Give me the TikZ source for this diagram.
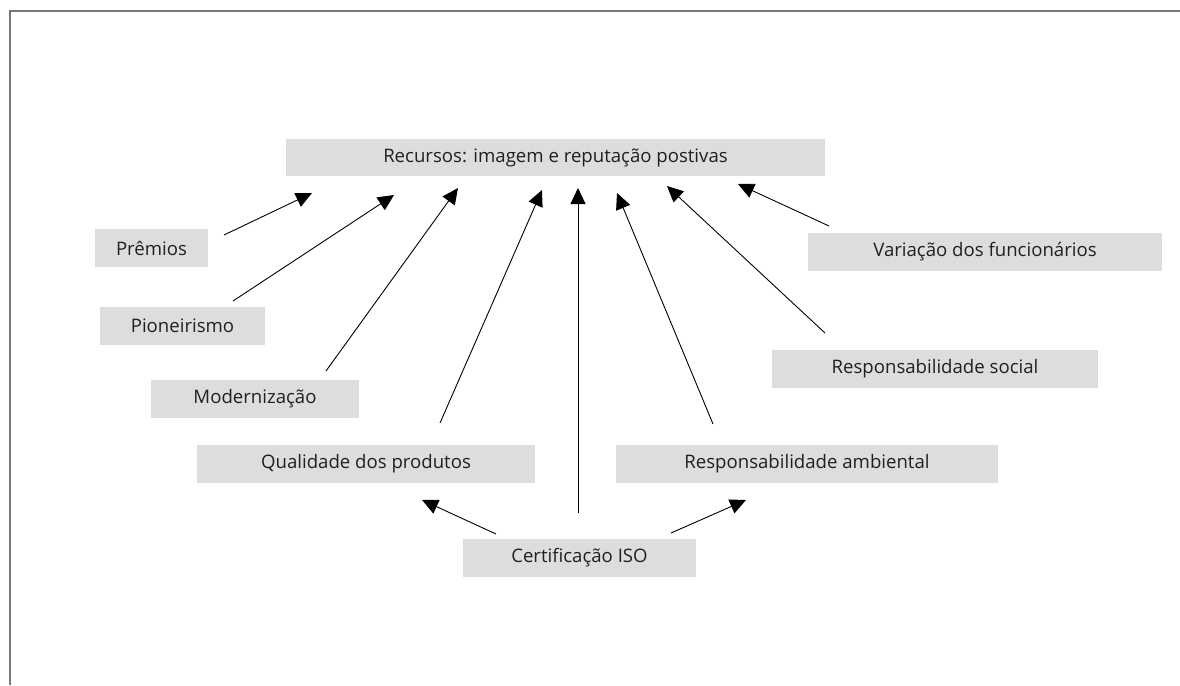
\documentclass[tikz,border=0pt]{standalone}
\usepackage{fontspec}
\setmainfont{Open Sans}
\usetikzlibrary{arrows.meta}
\definecolor{boxgray}{HTML}{DCDDDF}
\definecolor{framegray}{HTML}{777777}
\definecolor{txt}{HTML}{231F20}
\tikzset{
  gbox/.style={fill=boxgray, draw=none, minimum height=38pt, inner sep=0pt, font=\fontsize{18.6}{22}\selectfont, text=txt},
  arr/.style={line width=0.9pt, -{Triangle[length=16pt,width=15pt]}},
  frame/.style={framegray, line width=2pt}
}
\begin{document}
\begin{tikzpicture}[x=1pt,y=-1pt]
\useasboundingbox (0,0) rectangle (1180,685);
\coordinate (fr1) at (1180,11);
\coordinate (fr2) at (10,11);
\coordinate (fr3) at (10,685);
\draw[frame] (fr1) -- (fr2) -- (fr3);

\node[gbox, minimum width=539pt, minimum height=37pt] (top) at (555.5,157.5) {Recursos: imagem e reputação postivas};
\node[gbox, minimum width=113pt] (prem) at (151.5,248) {Prêmios};
\node[gbox, minimum width=165pt] (pion) at (182.5,326) {Pioneirismo};
\node[gbox, minimum width=208pt] (mod) at (255,399) {Modernização};
\node[gbox, minimum width=338pt] (qual) at (366,464) {Qualidade dos produtos};
\node[gbox, minimum width=233pt] (cert) at (579.5,558) {Certificação ISO};
\node[gbox, minimum width=382pt] (amb) at (807,464) {Responsabilidade ambiental};
\node[gbox, minimum width=326pt] (soc) at (935,369) {Responsabilidade social};
\node[gbox, minimum width=354pt] (var) at (985,252) {Variação dos funcionários};

% arrow endpoints
\coordinate (s1) at (224,235);  \coordinate (t1) at (312,193);
\coordinate (s2) at (233,301);  \coordinate (t2) at (394,195);
\coordinate (s3) at (326,371);  \coordinate (t3) at (458,188);
\coordinate (s4) at (440,423);  \coordinate (t4) at (542,190);
\coordinate (s5) at (578,513);  \coordinate (t5) at (578,188);
\coordinate (s6) at (713,424);  \coordinate (t6) at (617,193);
\coordinate (s7) at (825,333);  \coordinate (t7) at (667,186);
\coordinate (s8) at (829,226);  \coordinate (t8) at (738,184);
\coordinate (s9) at (496,534);  \coordinate (t9) at (422,500);
\coordinate (s10) at (671,533); \coordinate (t10) at (746,500);

\draw[arr] (s1) -- (t1);
\draw[arr] (s2) -- (t2);
\draw[arr] (s3) -- (t3);
\draw[arr] (s4) -- (t4);
\draw[arr] (s5) -- (t5);
\draw[arr] (s6) -- (t6);
\draw[arr] (s7) -- (t7);
\draw[arr] (s8) -- (t8);
\draw[arr] (s9) -- (t9);
\draw[arr] (s10) -- (t10);
\end{tikzpicture}
\end{document}
